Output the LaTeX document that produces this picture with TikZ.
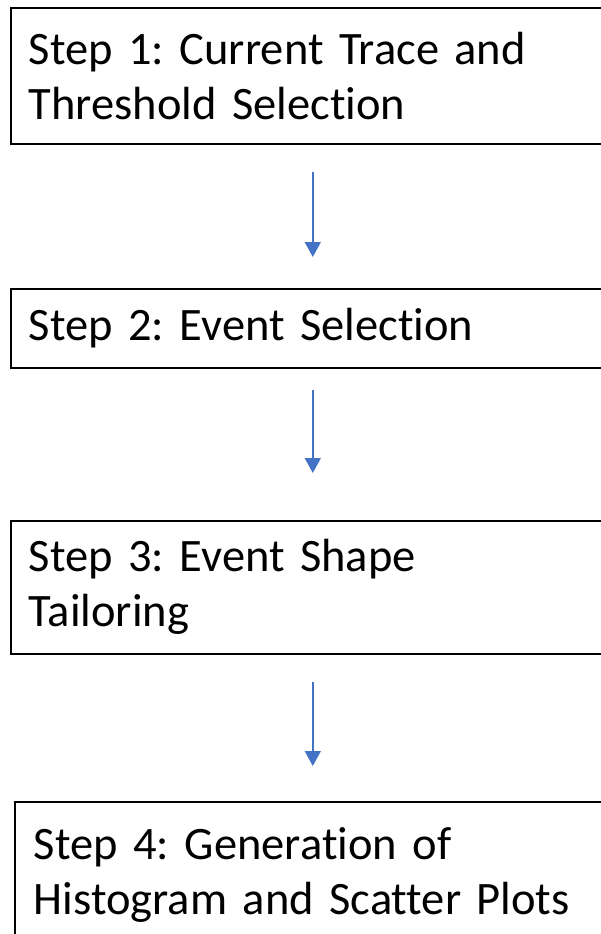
\documentclass[tikz,border=0pt]{standalone}
\usepackage{fontspec}
\setmainfont{Carlito}[Ligatures=NoCommon]
\frenchspacing
\usetikzlibrary{arrows.meta,positioning}
\definecolor{flowblue}{RGB}{68,114,196}

\begin{document}
\begin{tikzpicture}[x=1pt,y=-1pt,
    stepbox/.style={draw=black,line width=1.6pt,anchor=north west,align=left,
      inner xsep=18pt,inner ysep=0pt,text width=568pt,
      font=\fontsize{46.5}{55}\selectfont},
    flow/.style={-{Triangle[width=16pt,length=15pt]},line width=1.5pt,flowblue}]
    \useasboundingbox (0,0) rectangle (601,934);
    \clip (0,0) rectangle (601,934);

    % Steps
    \node[stepbox,minimum height=136pt] (s1) at (10,7) {Step 1: Current Trace and\\Threshold Selection};
    \node[stepbox,minimum height=79pt] (s2) at (10,288) {Step 2: Event Selection};
    \node[stepbox,minimum height=133pt] (s3) at (10,520) {Step 3: Event Shape\\Tailoring};
    \node[stepbox,minimum height=147pt,inner xsep=19pt,text width=558pt] (s4) at (14,801) {Step 4: Generation of\\Histogram and Scatter Plots};

    % Arrows
    \draw[flow,shorten <=27pt,shorten >=31pt] (s1) -- (s2);
    \draw[flow,shorten <=21pt,shorten >=47pt] (s2) -- (s3);
    \draw[flow,shorten <=27pt,shorten >=35pt] (s3) -- (s4);
\end{tikzpicture}
\end{document}
